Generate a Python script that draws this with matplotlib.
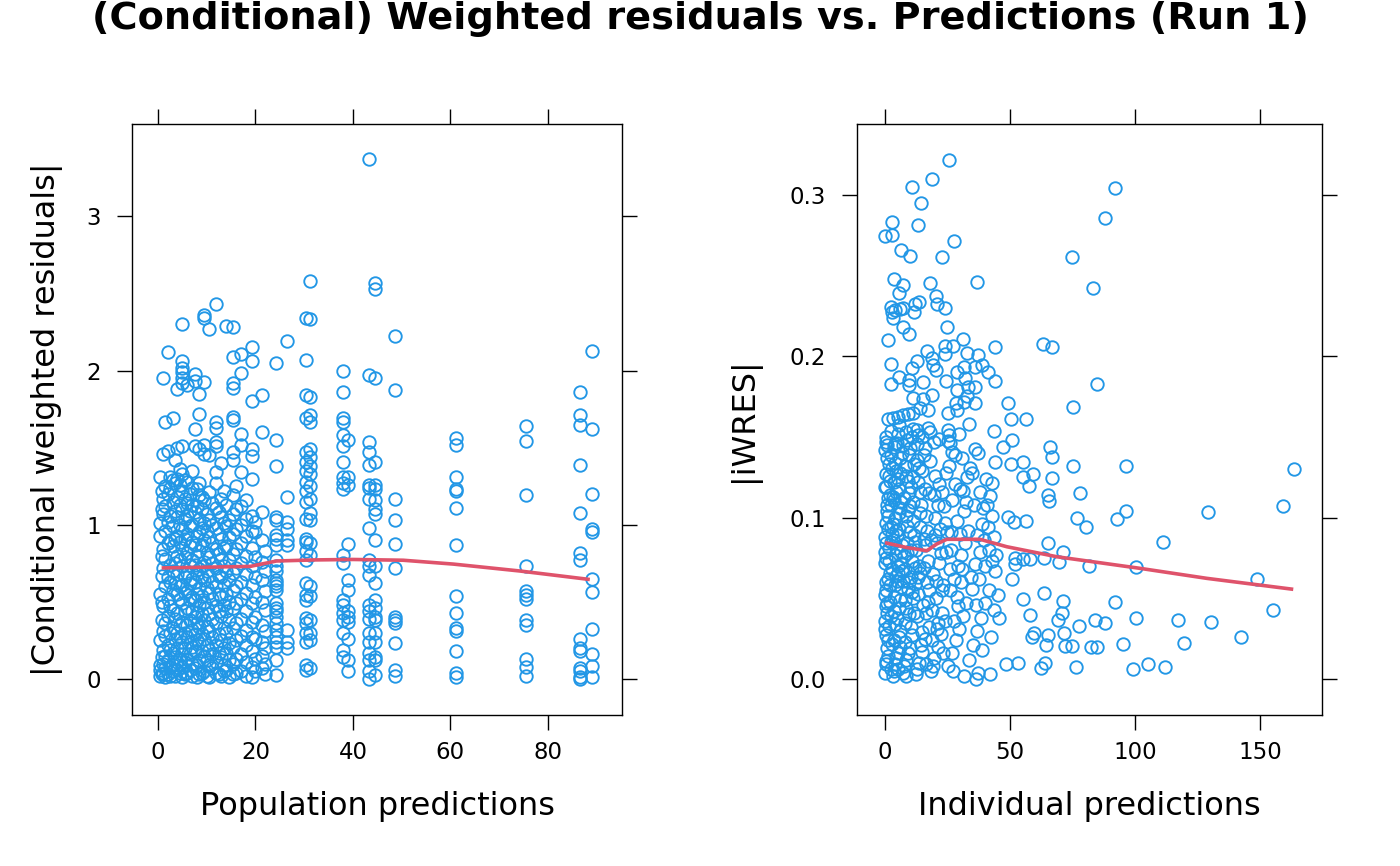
import matplotlib
matplotlib.use("Agg")
import matplotlib.pyplot as plt
import numpy as np

PT_COL = "#2297E6"
LINE_COL = "#DF536B"

# ---- left panel: population predictions (discrete levels) vs |CWRES|
pred_levels = [0.5, 1.0, 1.5, 2.0, 3.0, 3.5, 4.0, 5.0, 6.0, 7.0, 7.5, 8.5, 9.5,
               10.5, 12.0, 13.0, 14.0, 15.3, 17.0, 19.2, 21.3, 24.3, 26.4,
               30.3, 31.2, 38.0, 39.0, 43.2, 44.5, 48.7, 61.1, 75.5, 86.5, 89.1,
               0.8, 2.5, 4.5, 5.5, 6.5, 8.0, 9.0, 10.0, 11.0, 12.5, 13.5, 14.5,
               16.0, 18.0, 20.0, 22.0]
cwres_by_level = [
    [0.02, 0.06, 0.09, 0.25, 0.55, 0.93, 1.01, 1.31],
    [0.04, 0.10, 0.19, 0.31, 0.47, 0.72, 0.84, 1.07, 1.17, 1.46, 1.95],
    [0.01, 0.07, 0.15, 0.28, 0.36, 0.60, 0.78, 0.96, 1.12, 1.25, 1.67],
    [0.03, 0.12, 0.22, 0.41, 0.52, 0.66, 0.88, 1.02, 1.20, 1.48, 2.12],
    [0.05, 0.09, 0.17, 0.33, 0.45, 0.58, 0.70, 0.86, 0.99, 1.15, 1.29, 1.69],
    [0.02, 0.14, 0.26, 0.39, 0.62, 0.75, 0.91, 1.09, 1.27, 1.42],
    [0.06, 0.11, 0.20, 0.30, 0.43, 0.55, 0.68, 0.80, 0.93, 1.05, 1.18, 1.30, 1.50, 1.88],
    [0.01, 0.08, 0.16, 0.24, 0.37, 0.49, 0.61, 0.73, 0.85, 0.97, 1.10, 1.22, 1.33,
     1.51, 1.92, 1.95, 1.99, 2.02, 2.06, 2.30],
    [0.04, 0.13, 0.27, 0.35, 0.46, 0.57, 0.69, 0.82, 0.94, 1.06, 1.14, 1.28, 1.91],
    [0.02, 0.10, 0.21, 0.32, 0.44, 0.53, 0.65, 0.77, 0.89, 1.00, 1.13, 1.24, 1.35],
    [0.07, 0.18, 0.29, 0.40, 0.51, 0.63, 0.74, 0.87, 1.08, 1.51, 1.62, 1.93, 1.98],
    [0.03, 0.12, 0.23, 0.34, 0.48, 0.59, 0.71, 0.83, 0.95, 1.04, 1.19, 1.27, 1.49, 1.72, 1.85],
    [0.05, 0.15, 0.26, 0.38, 0.50, 0.64, 0.76, 0.90, 1.01, 1.16, 1.46, 1.52, 1.925, 2.34, 2.36],
    [0.01, 0.09, 0.19, 0.31, 0.42, 0.56, 0.67, 0.79, 0.92, 1.03, 1.21, 1.455, 2.27],
    [0.04, 0.11, 0.22, 0.36, 0.47, 0.60, 0.72, 0.84, 0.98, 1.11, 1.27, 1.345, 1.51,
     1.54, 1.63, 1.665, 2.43],
    [0.02, 0.14, 0.25, 0.41, 0.53, 0.66, 0.78, 0.91, 1.05, 1.17, 1.40],
    [0.06, 0.17, 0.30, 0.44, 0.55, 0.70, 0.86, 0.99, 1.13, 2.29],
    [0.03, 0.10, 0.21, 0.33, 0.46, 0.58, 0.69, 0.81, 0.94, 1.07, 1.19, 1.42, 1.475,
     1.68, 1.70, 1.885, 1.92, 2.09, 2.285],
    [0.05, 0.16, 0.28, 0.39, 0.52, 0.63, 0.75, 0.88, 1.00, 1.12, 1.345, 1.52, 1.59, 1.985, 2.11],
    [0.01, 0.08, 0.18, 0.27, 0.37, 0.49, 0.61, 0.73, 0.85, 0.96, 1.06, 1.30, 1.445,
     1.49, 1.80, 2.065, 2.155],
    [0.07, 0.15, 0.24, 0.35, 0.50, 0.64, 0.76, 0.90, 1.08, 1.60, 1.845],
    [0.025, 0.12, 0.21, 0.24, 0.275, 0.32, 0.36, 0.405, 0.44, 0.46, 0.49, 0.58, 0.60,
     0.62, 0.64, 0.70, 0.73, 0.77, 0.87, 0.91, 0.935, 1.03, 1.05, 1.38, 1.55, 2.05],
    [0.20, 0.24, 0.32, 0.87, 0.90, 0.97, 1.02, 1.18, 2.19],
    [0.055, 0.09, 0.24, 0.30, 0.36, 0.395, 0.51, 0.545, 0.62, 0.77, 0.83, 0.89, 0.91,
     1.04, 1.15, 1.22, 1.28, 1.35, 1.41, 1.47, 1.69, 1.84, 2.07, 2.34],
    [0.07, 0.255, 0.30, 0.38, 0.535, 0.60, 0.805, 0.88, 1.03, 1.075, 1.17, 1.25, 1.33,
     1.38, 1.44, 1.49, 1.67, 1.71, 1.83, 2.335, 2.58],
    [0.14, 0.19, 0.30, 0.38, 0.43, 0.48, 0.51, 0.75, 0.805, 1.23, 1.27, 1.31, 1.41,
     1.51, 1.58, 1.665, 1.69, 1.86, 2.0],
    [0.05, 0.12, 0.26, 0.37, 0.405, 0.44, 0.58, 0.64, 0.875, 1.26, 1.31, 1.55],
    [0.0, 0.05, 0.12, 0.17, 0.24, 0.30, 0.39, 0.44, 0.48, 0.675, 0.73, 0.77, 0.98,
     1.17, 1.24, 1.26, 1.39, 1.47, 1.54, 1.97, 3.37],
    [0.025, 0.12, 0.145, 0.24, 0.30, 0.38, 0.405, 0.46, 0.51, 0.62, 0.73, 0.90,
     1.07, 1.10, 1.16, 1.23, 1.26, 1.41, 1.95, 2.53, 2.57],
    [0.02, 0.06, 0.235, 0.36, 0.385, 0.405, 0.72, 0.875, 1.03, 1.165, 1.875, 2.225],
    [0.01, 0.04, 0.18, 0.31, 0.33, 0.43, 0.54, 0.87, 1.11, 1.22, 1.23, 1.31, 1.52, 1.56],
    [0.02, 0.08, 0.13, 0.35, 0.38, 0.52, 0.545, 0.57, 0.73, 1.19, 1.545, 1.64],
    [0.0, 0.015, 0.05, 0.07, 0.18, 0.20, 0.26, 0.77, 0.82, 1.075, 1.39, 1.65, 1.71, 1.86],
    [0.015, 0.085, 0.16, 0.325, 0.565, 0.65, 0.95, 0.97, 1.20, 1.62, 2.13],
    # extra points filling the crowded low-prediction block
    [0.03, 0.14, 0.38, 0.50, 0.67, 0.80, 1.10, 1.22],
    [0.02, 0.08, 0.19, 0.30, 0.47, 0.63, 0.74, 0.90, 1.06, 1.24, 1.31],
    [0.04, 0.13, 0.27, 0.35, 0.52, 0.60, 0.77, 0.89, 1.00, 1.13, 1.26, 1.36],
    [0.03, 0.11, 0.20, 0.30, 0.44, 0.56, 0.66, 0.79, 0.91, 1.04, 1.17, 1.29],
    [0.06, 0.16, 0.24, 0.38, 0.51, 0.62, 0.74, 0.86, 0.99, 1.09, 1.20],
    [0.01, 0.09, 0.25, 0.36, 0.43, 0.55, 0.68, 0.80, 0.93, 1.12, 1.23],
    [0.04, 0.18, 0.29, 0.42, 0.54, 0.66, 0.73, 0.87, 0.98, 1.10, 1.18],
    [0.02, 0.12, 0.22, 0.34, 0.46, 0.59, 0.70, 0.82, 0.96, 1.07],
    [0.07, 0.16, 0.27, 0.39, 0.52, 0.63, 0.75, 0.88, 1.00, 1.14],
    [0.03, 0.17, 0.29, 0.44, 0.55, 0.67, 0.81, 0.94, 1.08],
    [0.05, 0.09, 0.20, 0.33, 0.48, 0.61, 0.73, 0.85, 1.01, 1.22],
    [0.01, 0.12, 0.23, 0.38, 0.50, 0.64, 0.77, 0.92, 1.03],
    [0.04, 0.13, 0.25, 0.36, 0.49, 0.60, 0.72, 0.84, 0.97, 1.10, 1.25],
    [0.02, 0.11, 0.22, 0.32, 0.44, 0.56, 0.68, 0.80, 0.93, 1.04, 1.16],
    [0.05, 0.13, 0.26, 0.40, 0.53, 0.66, 0.79, 0.95, 1.02],
    [0.03, 0.10, 0.20, 0.31, 0.45, 0.57, 0.70, 0.83],
]
pred_smooth = [0.75, 10.0, 18.9, 24.3, 32.0, 40.0, 50.3, 60.6, 74.3, 88.6]
cwres_smooth = [0.72, 0.725, 0.73, 0.765, 0.772, 0.775, 0.77, 0.745, 0.70, 0.645]

# ---- right panel: individual predictions vs |iWRES|
iwres_upper = [
    (25.7, 0.3216), (18.9, 0.310), (10.9, 0.305), (92.0, 0.3046), (14.3, 0.2953),
    (2.7, 0.283), (0.0, 0.2746), (2.7, 0.2755), (13.1, 0.2817), (88.1, 0.2856),
    (27.6, 0.2715), (6.3, 0.2657), (10.0, 0.262), (22.7, 0.2616), (74.9, 0.2618),
    (3.7, 0.2478), (7.3, 0.2443), (5.7, 0.2391), (18.0, 0.2453), (36.7, 0.2459),
    (83.3, 0.2426), (20.4, 0.2374), (20.7, 0.2325), (24.0, 0.230), (2.4, 0.2308),
    (4.0, 0.2288), (6.0, 0.2292), (7.3, 0.2298), (2.7, 0.2275), (12.0, 0.2325),
    (13.6, 0.2335), (11.6, 0.2277), (3.3, 0.2236), (7.3, 0.218), (9.6, 0.2139),
    (24.7, 0.218), (1.3, 0.210), (24.0, 0.2066), (27.3, 0.2066), (31.1, 0.2106),
    (44.0, 0.2056), (63.3, 0.2075), (67.0, 0.206), (17.0, 0.2035), (13.0, 0.1973),
    (11.0, 0.1926), (2.3, 0.195), (18.7, 0.1988), (19.3, 0.1947), (20.3, 0.1916),
    (24.0, 0.2015), (32.7, 0.2019), (37.1, 0.2009), (38.7, 0.1947), (41.3, 0.1905),
    (36.0, 0.1936), (28.7, 0.190), (31.6, 0.1936), (32.0, 0.1868), (44.0, 0.185),
    (84.9, 0.1829), (5.7, 0.1874), (2.4, 0.1831), (9.7, 0.1854), (9.7, 0.1823),
    (15.1, 0.1841), (24.3, 0.185), (28.7, 0.1792), (33.1, 0.1808), (36.0, 0.1808),
    (32.7, 0.1754), (28.4, 0.1709), (31.6, 0.1719), (36.0, 0.1713), (28.9, 0.1668),
    (11.3, 0.1744), (18.9, 0.1759), (15.3, 0.1734), (17.3, 0.1668), (14.0, 0.1678),
    (49.3, 0.1709), (75.3, 0.1684), (1.1, 0.161), (3.3, 0.1616), (5.3, 0.1622),
    (7.3, 0.1637), (9.3, 0.1643), (11.1, 0.1647), (5.7, 0.1575), (8.4, 0.1533),
    (12.7, 0.1544), (17.3, 0.1558), (13.1, 0.1513), (25.3, 0.1544), (25.7, 0.1513),
    (25.3, 0.1647), (50.4, 0.1612), (56.3, 0.1612), (43.5, 0.1538), (50.7, 0.1482),
    (0.4, 0.1467), (4.0, 0.1457), (12.7, 0.1457), (19.7, 0.1471), (25.3, 0.1477),
    (36.0, 0.1424), (47.3, 0.144), (66.0, 0.144),
]
iwres_sparse = [
    (66.9, 0.1378), (44.0, 0.1343), (50.3, 0.1331), (55.3, 0.1343), (75.1, 0.1322),
    (96.3, 0.132), (163.6, 0.130), (55.1, 0.125), (59.3, 0.1269), (57.7, 0.1198),
    (66.9, 0.1244), (42.7, 0.1217), (31.3, 0.1166), (78.0, 0.1151), (65.1, 0.1141),
    (65.7, 0.1104), (42.0, 0.1134), (40.7, 0.1079), (76.7, 0.0996), (80.3, 0.0944),
    (49.3, 0.1003), (51.6, 0.0975), (56.4, 0.098), (93.0, 0.099), (96.4, 0.1043),
    (129.3, 0.1033), (159.1, 0.1074), (111.1, 0.0851), (65.3, 0.0845), (71.3, 0.0789),
    (100.3, 0.0692), (81.7, 0.0702), (69.7, 0.0723), (63.6, 0.0752), (58.0, 0.0742),
    (55.1, 0.0742), (52.0, 0.0748), (52.0, 0.0713), (50.9, 0.062), (148.7, 0.0618),
    (63.6, 0.0531), (71.1, 0.0484), (70.9, 0.0407), (69.3, 0.0366), (55.3, 0.0494),
    (58.0, 0.0397), (92.1, 0.0479), (155.1, 0.0428), (100.3, 0.038), (117.1, 0.0366),
    (130.3, 0.0355), (84.0, 0.0366), (88.0, 0.0349), (77.6, 0.0329), (71.7, 0.0283),
    (119.6, 0.0225), (142.4, 0.0262), (95.3, 0.0217), (82.3, 0.020), (84.7, 0.0197),
    (72.0, 0.0205), (74.7, 0.0205), (65.1, 0.0273), (64.4, 0.0211), (59.6, 0.0283),
    (58.7, 0.0262), (105.1, 0.0091), (112.0, 0.0076), (99.1, 0.006), (76.5, 0.0072),
    (64.0, 0.0101), (62.4, 0.0066), (53.3, 0.0101), (48.3, 0.0093), (42.0, 0.0029),
    (36.3, -0.0002),
]
iwres_dense = [
    (0.2, 0.004), (0.5, 0.011), (1.0, 0.019), (0.3, 0.027), (1.5, 0.033), (0.8, 0.041),
    (2.2, 0.048), (0.4, 0.055), (1.2, 0.062), (2.8, 0.068), (0.6, 0.075), (1.8, 0.081),
    (0.1, 0.088), (2.5, 0.094), (1.1, 0.101), (0.7, 0.108), (2.0, 0.114), (0.3, 0.119),
    (1.6, 0.126), (2.9, 0.131), (0.9, 0.137), (0.2, 0.142), (2.4, 0.006), (1.3, 0.014),
    (2.7, 0.022), (0.5, 0.045), (1.9, 0.058), (2.6, 0.085), (0.4, 0.097), (1.4, 0.112),
    (2.1, 0.123), (0.0, 0.072), (0.1, 0.052), (0.2, 0.036), (0.0, 0.119), (0.1, 0.079),
    (3.2, 0.002), (4.1, 0.009), (5.3, 0.016), (3.8, 0.024), (6.2, 0.030), (4.7, 0.038),
    (5.8, 0.044), (3.5, 0.051), (6.6, 0.057), (4.3, 0.064), (5.1, 0.070), (3.9, 0.077),
    (6.9, 0.083), (4.9, 0.089), (3.3, 0.096), (5.6, 0.103), (6.4, 0.110), (4.5, 0.116),
    (3.7, 0.122), (5.9, 0.128), (4.0, 0.134), (6.7, 0.140), (5.4, 0.006), (6.1, 0.020),
    (3.6, 0.042), (5.0, 0.061), (6.3, 0.079), (4.4, 0.092), (5.7, 0.118), (4.8, 0.146),
    (3.4, 0.113), (6.8, 0.067),
    (7.3, 0.004), (8.6, 0.012), (9.9, 0.019), (10.8, 0.027), (7.9, 0.035), (11.5, 0.041),
    (8.2, 0.049), (9.4, 0.056), (10.3, 0.063), (11.9, 0.069), (7.6, 0.076), (8.9, 0.084),
    (10.1, 0.091), (11.2, 0.098), (9.1, 0.105), (7.8, 0.112), (10.6, 0.119), (8.4, 0.126),
    (11.7, 0.133), (9.6, 0.139), (7.1, 0.145), (10.9, 0.150), (8.0, 0.023), (9.7, 0.040),
    (11.0, 0.054), (7.4, 0.061), (10.4, 0.080), (8.8, 0.095), (11.4, 0.110), (9.3, 0.123),
    (8.3, 0.002), (12.0, 0.085),
    (12.4, 0.003), (13.6, 0.010), (14.9, 0.017), (16.2, 0.025), (17.5, 0.032), (12.8, 0.039),
    (15.3, 0.046), (13.1, 0.053), (16.8, 0.060), (14.2, 0.066), (17.1, 0.073), (12.6, 0.080),
    (15.7, 0.087), (13.9, 0.094), (16.5, 0.101), (14.6, 0.108), (17.8, 0.115), (13.3, 0.122),
    (15.0, 0.129), (12.9, 0.136), (16.0, 0.143), (14.4, 0.021), (17.3, 0.048), (13.7, 0.070),
    (15.9, 0.083), (14.1, 0.116), (16.6, 0.009), (12.2, 0.059),
    (18.4, 0.005), (19.8, 0.013), (21.2, 0.020), (22.6, 0.028), (24.0, 0.036), (18.9, 0.043),
    (20.5, 0.050), (23.1, 0.058), (19.3, 0.065), (21.8, 0.072), (24.6, 0.079), (18.6, 0.086),
    (22.2, 0.093), (20.1, 0.100), (23.7, 0.107), (19.6, 0.114), (21.5, 0.121), (24.3, 0.128),
    (18.1, 0.135), (22.9, 0.055), (20.8, 0.031), (23.4, 0.016), (24.8, 0.091), (21.0, 0.084),
    (19.0, 0.024),
    (25.4, 0.008), (26.8, 0.016), (28.3, 0.024), (29.7, 0.031), (31.2, 0.039), (32.6, 0.047),
    (25.9, 0.055), (27.5, 0.062), (29.1, 0.070), (30.6, 0.077), (32.1, 0.084), (26.3, 0.091),
    (28.8, 0.098), (31.5, 0.104), (27.0, 0.111), (30.0, 0.118), (32.9, 0.125), (25.6, 0.132),
    (28.0, 0.139), (31.8, 0.002), (29.4, 0.045), (26.6, 0.080), (30.3, 0.060), (27.8, 0.036),
    (33.8, 0.012), (35.2, 0.021), (36.7, 0.030), (38.4, 0.038), (40.1, 0.047), (41.8, 0.055),
    (43.5, 0.043), (45.2, 0.052), (34.5, 0.063), (36.1, 0.071), (37.9, 0.079), (39.6, 0.086),
    (41.2, 0.094), (42.9, 0.101), (44.6, 0.077), (35.7, 0.108), (38.0, 0.116), (40.5, 0.124),
    (34.2, 0.131), (37.3, 0.004), (39.0, 0.018), (42.3, 0.026), (44.1, 0.067), (45.8, 0.038),
    (33.4, 0.092), (36.4, 0.046), (43.0, 0.073),
    (0.5, 0.150), (2.3, 0.154), (5.2, 0.152), (8.7, 0.148), (11.3, 0.155), (14.8, 0.150),
    (18.2, 0.153), (21.6, 0.149), (26.1, 0.146), (29.5, 0.152), (33.5, 0.158), (37.2, 0.140),
    (26.9, 0.141), (31.0, 0.137), (35.0, 0.128),
    (0.6, 0.009), (1.4, 0.024), (0.2, 0.031), (2.3, 0.039), (1.0, 0.047), (0.3, 0.060),
    (2.1, 0.066), (1.5, 0.073), (0.5, 0.084), (2.9, 0.090), (1.3, 0.093), (0.8, 0.104),
    (2.6, 0.108), (0.4, 0.127), (1.7, 0.133), (2.4, 0.139), (0.9, 0.145),
    (3.6, 0.005), (4.5, 0.013), (5.5, 0.026), (4.2, 0.034), (6.0, 0.049), (3.9, 0.058),
    (5.2, 0.066), (6.5, 0.072), (4.6, 0.081), (3.4, 0.086), (5.8, 0.093), (4.1, 0.100),
    (6.2, 0.106), (3.8, 0.111), (5.3, 0.124), (4.3, 0.129), (6.0, 0.137), (3.5, 0.144),
    (7.7, 0.008), (9.2, 0.016), (10.5, 0.032), (8.5, 0.044), (11.3, 0.050), (9.8, 0.060),
    (8.1, 0.068), (10.7, 0.073), (9.0, 0.078), (11.6, 0.089), (8.3, 0.101), (10.2, 0.107),
    (9.5, 0.115), (11.1, 0.125), (8.0, 0.132), (10.0, 0.143),
    (13.0, 0.006), (14.7, 0.029), (16.4, 0.041), (13.4, 0.063), (15.5, 0.069), (17.0, 0.092),
    (14.0, 0.103), (16.2, 0.118), (13.6, 0.131), (15.6, 0.139), (17.6, 0.055),
    (19.4, 0.008), (21.4, 0.035), (23.0, 0.041), (20.3, 0.061), (22.5, 0.078), (19.9, 0.089),
    (23.9, 0.097), (21.2, 0.108), (22.7, 0.116), (20.0, 0.126),
    (27.2, 0.005), (28.7, 0.051), (30.9, 0.068), (26.1, 0.068), (29.9, 0.090), (32.4, 0.110),
    (27.9, 0.121), (35.0, 0.056), (37.7, 0.062), (40.0, 0.070), (38.9, 0.096), (36.9, 0.089),
    (41.5, 0.080), (43.7, 0.088), (39.3, 0.106),
]
ipred_smooth = [0.0, 8.7, 16.7, 20.7, 24.7, 38.0, 48.7, 68.7, 102.0, 128.7, 163.3]
iwres_smooth = [0.0845, 0.0815, 0.0795, 0.0837, 0.0866, 0.0866, 0.082, 0.0758,
                0.0686, 0.0624, 0.0556]

pred_x = np.concatenate([[lv] * len(ys) for lv, ys in zip(pred_levels, cwres_by_level)])
cwres_y = np.concatenate(cwres_by_level)
right_pts = np.array(iwres_upper + iwres_sparse + iwres_dense)

fig = plt.figure(figsize=(14, 8.66), dpi=100)
ax1 = fig.add_axes([132 / 1400, 151 / 866, 490 / 1400, 591 / 866])
ax2 = fig.add_axes([857 / 1400, 151 / 866, 465 / 1400, 591 / 866])

mk = dict(marker="o", linestyle="none", mfc="none", mec=PT_COL, ms=9, mew=1.35)
ax1.plot(pred_x, cwres_y, **mk)
ax1.plot(pred_smooth, cwres_smooth, color=LINE_COL, lw=2.6, solid_capstyle="butt")
ax2.plot(right_pts[:, 0], right_pts[:, 1], **mk)
ax2.plot(ipred_smooth, iwres_smooth, color=LINE_COL, lw=2.6, solid_capstyle="butt")

ax1.set_xlim(-5.33, 95.2)
ax1.set_ylim(-0.234, 3.60)
ax1.set_xticks([0, 20, 40, 60, 80])
ax1.set_yticks([0, 1, 2, 3])
ax2.set_xlim(-11.2, 174.8)
ax2.set_ylim(-0.0223, 0.344)
ax2.set_xticks([0, 50, 100, 150])
ax2.set_yticks([0.0, 0.1, 0.2, 0.3])
ax2.set_yticklabels(["0.0", "0.1", "0.2", "0.3"])

for ax in (ax1, ax2):
    ax.tick_params(direction="out", length=11, width=1.0, top=True, right=True,
                   labeltop=False, labelright=False, labelsize=16.5)
    ax.tick_params(axis="x", pad=8)
    ax.tick_params(axis="y", pad=11.5)
    for sp in ax.spines.values():
        sp.set_linewidth(1.0)

ax1.set_xlabel("Population predictions", fontsize=23, labelpad=19)
ax1.set_ylabel("|Conditional weighted residuals|", fontsize=23, labelpad=17)
ax2.set_xlabel("Individual predictions", fontsize=23, labelpad=19)
ax2.set_ylabel("|iWRES|", fontsize=23, labelpad=21)

fig.suptitle("(Conditional) Weighted residuals vs. Predictions (Run 1)",
             fontsize=27.5, fontweight="bold", y=0.999, va="top")

fig.savefig("out.png", dpi=100)
